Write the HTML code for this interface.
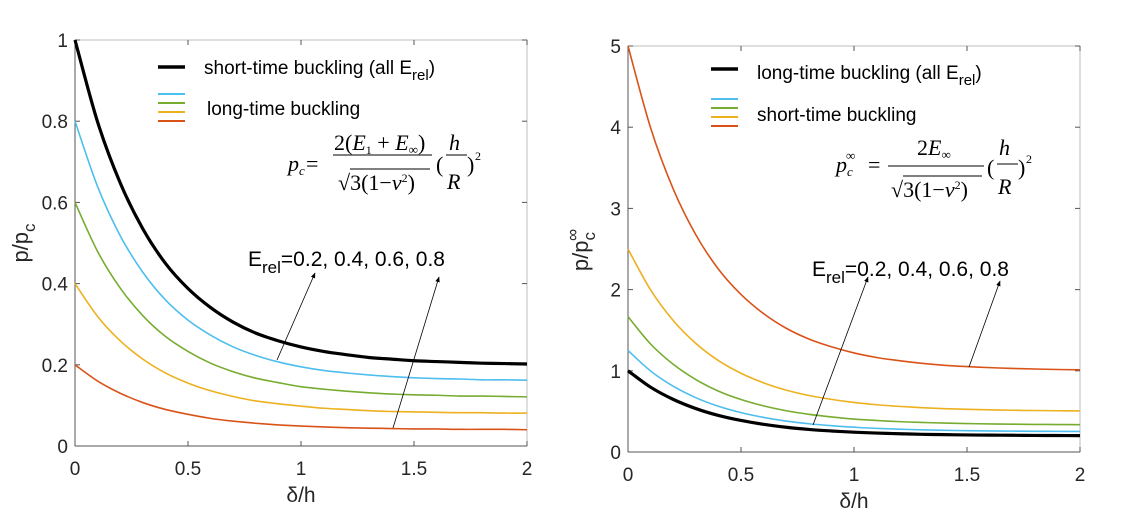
<!DOCTYPE html>
<html><head><meta charset="utf-8">
<style>
html,body{margin:0;padding:0;background:#fff;}
svg{display:block;font-family:"Liberation Sans",Arial,sans-serif;}
.tick{font-size:19px;fill:#262626;}
.mt{font-family:"Liberation Serif",serif;fill:#000;}
</style></head>
<body>
<svg id="chart" width="1136" height="511" viewBox="0 0 1136 511" xmlns="http://www.w3.org/2000/svg">
<defs>
<marker id="ah" viewBox="0 0 10 10" refX="9" refY="5" markerWidth="7" markerHeight="9" orient="auto-start-reverse">
<path d="M0,1 L10,5 L0,9 Z" fill="#000"/>
</marker>
</defs>
<g id="left"></g>
<g id="right"></g>

<g>
<line x1="158" y1="67" x2="185" y2="67" stroke="#000" stroke-width="3.5"/>
<text x="204" y="74" font-size="19" fill="#000">short-time buckling (all E<tspan dy="6" font-size="15">rel</tspan><tspan dy="-6">)</tspan></text>
<line x1="158" y1="94" x2="185" y2="94" stroke="#4DBEEE" stroke-width="2"/>
<line x1="158" y1="103" x2="185" y2="103" stroke="#77AC30" stroke-width="2"/>
<line x1="158" y1="112" x2="185" y2="112" stroke="#EDB120" stroke-width="2"/>
<line x1="158" y1="121" x2="185" y2="121" stroke="#D95319" stroke-width="2"/>
<text x="207" y="115" font-size="19" fill="#000">long-time buckling</text>
</g>
<g>
<text class="mt" x="288" y="171" font-size="22" font-style="italic">p<tspan font-size="13" dy="4">c</tspan></text>
<text class="mt" x="306" y="171" font-size="22">=</text>
<text class="mt" x="334" y="150" font-size="22">2(<tspan font-style="italic">E</tspan><tspan font-size="12" dy="4">1</tspan><tspan dy="-4"> + </tspan><tspan font-style="italic">E</tspan><tspan font-size="13" dy="4">∞</tspan><tspan dy="-4">)</tspan></text>
<line x1="333" y1="155" x2="432" y2="155" stroke="#000" stroke-width="1"/>
<text class="mt" x="338" y="190" font-size="22">√3(1−<tspan font-style="italic">v</tspan><tspan font-size="12" dy="-8">2</tspan><tspan dy="8">)</tspan></text>
<line x1="350" y1="169" x2="430" y2="169" stroke="#000" stroke-width="1"/>
<text class="mt" x="436" y="172" font-size="22">(</text>
<text class="mt" x="449" y="150" font-size="22" font-style="italic">h</text>
<line x1="446" y1="155" x2="467" y2="155" stroke="#000" stroke-width="1"/>
<text class="mt" x="447" y="189" font-size="22" font-style="italic">R</text>
<text class="mt" x="467" y="172" font-size="22">)</text>
<text class="mt" x="475" y="160" font-size="12">2</text>
</g>
<text x="248" y="266" font-size="21" fill="#000">E<tspan dy="7" font-size="17">rel</tspan><tspan dy="-7">=0.2, 0.4, 0.6, 0.8</tspan></text>
<line x1="277" y1="360" x2="315" y2="273" stroke="#000" stroke-width="0.8" marker-end="url(#ah)"/>
<line x1="393" y1="428" x2="439" y2="277" stroke="#000" stroke-width="0.8" marker-end="url(#ah)"/>

<g>
<line x1="711" y1="69" x2="738" y2="69" stroke="#000" stroke-width="3.5"/>
<text x="757" y="79" font-size="19" fill="#000">long-time buckling (all E<tspan dy="6" font-size="15">rel</tspan><tspan dy="-6">)</tspan></text>
<line x1="711" y1="99" x2="738" y2="99" stroke="#4DBEEE" stroke-width="2"/>
<line x1="711" y1="108" x2="738" y2="108" stroke="#77AC30" stroke-width="2"/>
<line x1="711" y1="117" x2="738" y2="117" stroke="#EDB120" stroke-width="2"/>
<line x1="711" y1="126" x2="738" y2="126" stroke="#D95319" stroke-width="2"/>
<text x="757" y="121" font-size="19" fill="#000">short-time buckling</text>
</g>
<g>
<text class="mt" x="836" y="172" font-size="22" font-style="italic">p<tspan font-size="13" dy="4">c</tspan></text>
<text class="mt" x="846" y="160" font-size="13">∞</text>
<text class="mt" x="868" y="172" font-size="22">=</text>
<text class="mt" x="917" y="155" font-size="22">2<tspan font-style="italic">E</tspan><tspan font-size="13" dy="4">∞</tspan></text>
<line x1="888" y1="166" x2="984" y2="166" stroke="#000" stroke-width="1"/>
<text class="mt" x="891" y="197" font-size="22">√3(1−<tspan font-style="italic">v</tspan><tspan font-size="12" dy="-8">2</tspan><tspan dy="8">)</tspan></text>
<line x1="903" y1="176" x2="982" y2="176" stroke="#000" stroke-width="1"/>
<text class="mt" x="987" y="175" font-size="22">(</text>
<text class="mt" x="999" y="155" font-size="22" font-style="italic">h</text>
<line x1="997" y1="164" x2="1018" y2="164" stroke="#000" stroke-width="1"/>
<text class="mt" x="998" y="194" font-size="22" font-style="italic">R</text>
<text class="mt" x="1018" y="175" font-size="22">)</text>
<text class="mt" x="1026" y="163" font-size="12">2</text>
</g>
<text x="812" y="276" font-size="21" fill="#000">E<tspan dy="7" font-size="17">rel</tspan><tspan dy="-7">=0.2, 0.4, 0.6, 0.8</tspan></text>
<line x1="813" y1="425" x2="868" y2="277" stroke="#000" stroke-width="0.8" marker-end="url(#ah)"/>
<line x1="969" y1="367" x2="1000" y2="281" stroke="#000" stroke-width="0.8" marker-end="url(#ah)"/>
</svg>
<script>
const xs = [0,0.1,0.2,0.3,0.4,0.5,0.6,0.7,0.8,0.9,1.0,1.1,1.2,1.3,1.4,1.5,1.6,1.7,1.8,1.9,2.0];
const xTicks = [0,0.5,1,1.5,2];
const xTickLabels = ["0","0.5","1","1.5","2"];
const leftYTicks = [0,0.2,0.4,0.6,0.8,1];
const leftYTickLabels = ["0","0.2","0.4","0.6","0.8","1"];
const rightYTicks = [0,1,2,3,4,5];
const rightYTickLabels = ["0","1","2","3","4","5"];
const leftBlack  = [1,.798,.648,.535,.450,.388,.341,.305,.278,.259,.244,.233,.225,.218,.214,.210,.208,.206,.204,.203,.202];
const leftBlue   = [.8,.639,.518,.428,.360,.310,.273,.244,.223,.207,.195,.186,.180,.175,.171,.168,.166,.165,.163,.163,.162];
const leftGreen  = [.6,.479,.389,.321,.270,.233,.204,.183,.167,.156,.146,.140,.135,.131,.128,.126,.125,.123,.123,.122,.121];
const leftYellow = [.4,.319,.259,.214,.180,.155,.136,.122,.111,.104,.098,.093,.090,.087,.085,.084,.083,.082,.082,.081,.081];
const leftRed    = [.2,.160,.130,.107,.090,.078,.068,.061,.056,.052,.049,.047,.045,.044,.043,.042,.042,.041,.041,.041,.040];
const rightBlack  = [1,.798,.648,.535,.450,.388,.341,.305,.278,.259,.244,.233,.225,.218,.214,.210,.208,.206,.204,.203,.202];
const rightBlue   = [1.25,.998,.810,.669,.563,.485,.426,.381,.348,.324,.305,.291,.281,.273,.267,.263,.260,.257,.255,.254,.253];
const rightGreen  = [1.667,1.330,1.080,.892,.750,.646,.568,.508,.464,.432,.406,.388,.374,.364,.356,.350,.346,.343,.340,.338,.337];
const rightYellow = [2.5,1.996,1.620,1.338,1.126,.970,.852,.762,.696,.648,.610,.582,.562,.546,.534,.526,.519,.514,.511,.508,.506];
const rightRed    = [5,3.992,3.240,2.676,2.252,1.940,1.704,1.524,1.392,1.296,1.220,1.164,1.124,1.092,1.068,1.052,1.039,1.029,1.022,1.016,1.012];

const NS="http://www.w3.org/2000/svg";
function mk(tag,attrs,parent){const e=document.createElementNS(NS,tag);for(const k in attrs)e.setAttribute(k,attrs[k]);parent.appendChild(e);return e;}
function pathD(px,py){
  let d="M"+px[0]+","+py[0];
  for(let i=0;i<px.length-1;i++){
    const x0=px[Math.max(i-1,0)],y0=py[Math.max(i-1,0)],x1=px[i],y1=py[i],x2=px[i+1],y2=py[i+1],x3=px[Math.min(i+2,px.length-1)],y3=py[Math.min(i+2,px.length-1)];
    const c1x=x1+(x2-x0)/6,c1y=y1+(y2-y0)/6,c2x=x2-(x3-x1)/6,c2y=y2-(y3-y1)/6;
    d+=" C"+c1x.toFixed(2)+","+c1y.toFixed(2)+" "+c2x.toFixed(2)+","+c2y.toFixed(2)+" "+x2.toFixed(2)+","+y2.toFixed(2);
  }
  return d;
}
function drawChart(g,cfg){
  const X=v=>cfg.x0+(v-0)/2*(cfg.x1-cfg.x0);
  const Y=v=>cfg.yb-(v/cfg.ymax)*(cfg.yb-cfg.yt);
  const frame=mk("rect",{x:cfg.x0,y:cfg.yt,width:cfg.x1-cfg.x0,height:cfg.yb-cfg.yt,fill:"#fff",stroke:"#bdbdbd","stroke-width":1},g);
  
  
  mk("line",{x1:cfg.x0,y1:cfg.yt,x2:cfg.x0,y2:cfg.yb,stroke:"#555","stroke-width":1},g);
  mk("line",{x1:cfg.x0,y1:cfg.yb,x2:cfg.x1,y2:cfg.yb,stroke:"#555","stroke-width":1},g);
  xTicks.forEach((t,i)=>{
    const x=X(t);
    mk("line",{x1:x,y1:cfg.yb,x2:x,y2:cfg.yb-5,stroke:"#555"},g);
    mk("line",{x1:x,y1:cfg.yt,x2:x,y2:cfg.yt+5,stroke:"#555"},g);
    const tx=mk("text",{x:x,y:cfg.yb+29,"text-anchor":"middle",class:"tick"},g);
    tx.textContent=xTickLabels[i];
    
    
  });
  cfg.yTicks.forEach((t,i)=>{
    const y=Y(t);
    mk("line",{x1:cfg.x0,y1:y,x2:cfg.x0+5,y2:y,stroke:"#555"},g);
    mk("line",{x1:cfg.x1,y1:y,x2:cfg.x1-5,y2:y,stroke:"#555"},g);
    const tx=mk("text",{x:cfg.x0-7,y:y+7,"text-anchor":"end",class:"tick"},g);
    tx.textContent=cfg.yLabels[i];
    
    
  });
  cfg.series.forEach(s=>{
    const p=mk("path",{d:pathD(xs.map(X),s.v.map(Y)),fill:"none",stroke:s.c,"stroke-width":s.w},g);
    
    
  });
  const xl=mk("text",{x:(cfg.x0+cfg.x1)/2,y:cfg.yb+56,"text-anchor":"middle","font-size":"21",fill:"#262626"},g);
  xl.textContent="δ/h";
  
  
}
drawChart(document.getElementById("left"),{x0:75,x1:527,yt:40,yb:446,ymax:1,yTicks:leftYTicks,yLabels:leftYTickLabels,
  series:[{v:leftRed,c:"#D95319",w:1.6,n:"long-time-erel-0.2"},{v:leftYellow,c:"#EDB120",w:1.6,n:"long-time-erel-0.4"},{v:leftGreen,c:"#77AC30",w:1.6,n:"long-time-erel-0.6"},{v:leftBlue,c:"#4DBEEE",w:1.6,n:"long-time-erel-0.8"},{v:leftBlack,c:"#000",w:3.2,n:"short-time-all"}]});
drawChart(document.getElementById("right"),{x0:628,x1:1080,yt:46,yb:452,ymax:5,yTicks:rightYTicks,yLabels:rightYTickLabels,
  series:[{v:rightRed,c:"#D95319",w:1.6,n:"short-time-erel-0.2"},{v:rightYellow,c:"#EDB120",w:1.6,n:"short-time-erel-0.4"},{v:rightGreen,c:"#77AC30",w:1.6,n:"short-time-erel-0.6"},{v:rightBlue,c:"#4DBEEE",w:1.6,n:"short-time-erel-0.8"},{v:rightBlack,c:"#000",w:3.2,n:"long-time-all"}]});
const svg=document.getElementById("chart");
const yl1=mk("text",{transform:"translate(28,243) rotate(-90)","text-anchor":"middle","font-size":"22",fill:"#262626"},svg);
yl1.innerHTML='p/p<tspan dy="7" font-size="17">c</tspan>';


const yl2=mk("text",{transform:"translate(588,250) rotate(-90)","text-anchor":"middle","font-size":"22",fill:"#262626"},svg);
yl2.innerHTML='p/p<tspan dy="7" font-size="17">c</tspan><tspan dy="-17" dx="-9" font-size="17">∞</tspan>';


</script>
</body></html>
